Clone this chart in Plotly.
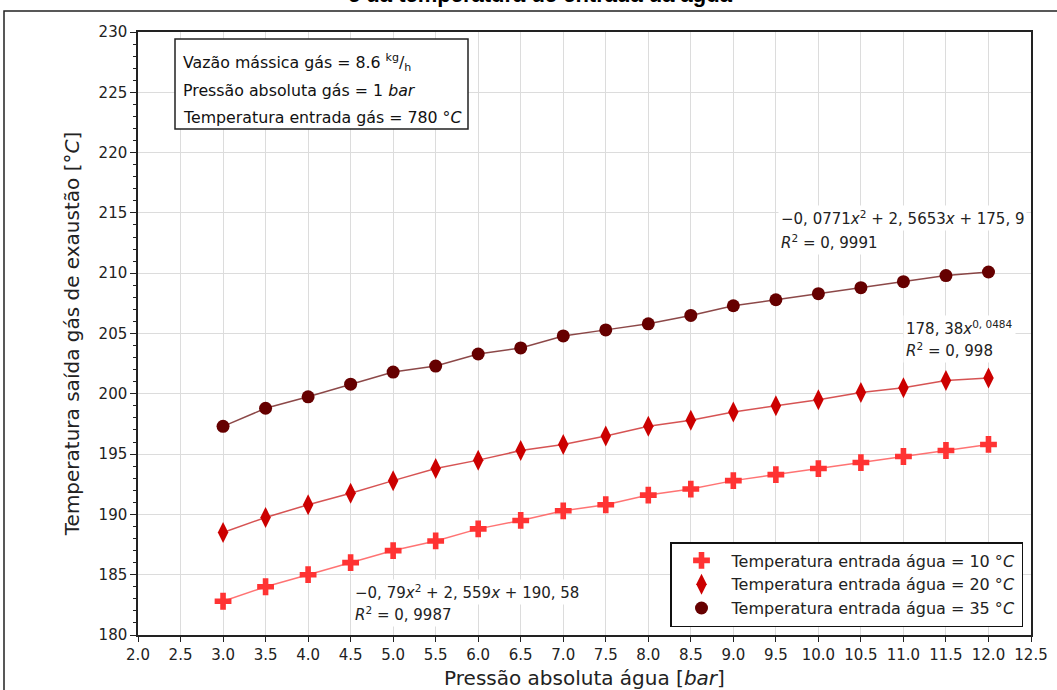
import plotly.graph_objects as go

pressao = [3.0, 3.5, 4.0, 4.5, 5.0, 5.5, 6.0, 6.5, 7.0, 7.5, 8.0, 8.5, 9.0, 9.5, 10.0, 10.5, 11.0, 11.5, 12.0]
t_agua_10 = [182.8, 184.0, 185.0, 186.0, 187.0, 187.8, 188.8, 189.5, 190.3, 190.8, 191.6, 192.1, 192.8, 193.3, 193.8, 194.3, 194.8, 195.3, 195.8]
t_agua_20 = [188.5, 189.75, 190.8, 191.75, 192.8, 193.8, 194.5, 195.3, 195.8, 196.5, 197.3, 197.8, 198.5, 199.0, 199.5, 200.1, 200.5, 201.1, 201.3]
t_agua_35 = [197.3, 198.8, 199.75, 200.8, 201.8, 202.3, 203.3, 203.8, 204.8, 205.3, 205.8, 206.5, 207.3, 207.8, 208.3, 208.8, 209.3, 209.8, 210.1]

series_names = ["Temperatura entrada água = 10 °<i>C</i>",
                "Temperatura entrada água = 20 °<i>C</i>",
                "Temperatura entrada água = 35 °<i>C</i>"]
x_ticks = [2.0, 2.5, 3.0, 3.5, 4.0, 4.5, 5.0, 5.5, 6.0, 6.5, 7.0, 7.5, 8.0, 8.5, 9.0, 9.5, 10.0, 10.5, 11.0, 11.5, 12.0, 12.5]

FONT = "DejaVu Sans"
L, R, T, B = 138, 26, 32, 55
W, H = 1057, 690
PW, PH = W - L - R, H - T - B

def px(x):
    return (x - L) / PW

def py(y):
    return (H - B - y) / PH

fig = go.Figure()

styles = [
    (t_agua_10, "#ff3333", "rgba(255,90,90,0.85)", "cross", 14),
    (t_agua_20, "#cc0000", "rgba(204,40,40,0.8)", "diamond-tall", 15),
    (t_agua_35, "#660000", "rgba(120,40,40,0.85)", "circle", 13),
]

for (ys, mc, lc, sym, sz), name in zip(styles, series_names):
    fig.add_trace(go.Scatter(x=pressao, y=ys, mode="lines", line=dict(color=lc, width=1.5),
                             showlegend=False, hoverinfo="skip"))
    fig.add_trace(go.Scatter(x=pressao, y=ys, mode="markers", name=name, legendgroup=name,
                             marker=dict(color=mc, symbol=sym, size=sz, line=dict(width=0))))

fig.update_layout(
    width=W, height=H,
    margin=dict(l=L, r=R, t=T, b=B, autoexpand=False),
    paper_bgcolor="white", plot_bgcolor="white",
    font=dict(family=FONT, size=15, color="#222"),
    legend=dict(x=px(1023), xanchor="right", y=py(627), yanchor="bottom",
                bgcolor="white", bordercolor="#111", borderwidth=1.5,
                font=dict(size=16, family=FONT), tracegroupgap=0,
                itemsizing="trace", itemwidth=50),
    xaxis=dict(range=[2.0, 12.5], tickvals=x_ticks, ticktext=[f"{v:.1f}" for v in x_ticks],
               showgrid=True, gridcolor="#dcdcdc", gridwidth=1, automargin=False,
               showline=True, linecolor="#222", linewidth=1.5, mirror=True,
               ticks="outside", ticklen=5, tickcolor="#222", zeroline=False,
               tickfont=dict(size=15, family=FONT),
               title=dict(text="Pressão absoluta água [<i>bar</i>]", font=dict(size=20, family=FONT), standoff=12)),
    yaxis=dict(range=[180, 230], dtick=5, tick0=180, automargin=False,
               showgrid=True, gridcolor="#dcdcdc", gridwidth=1,
               showline=True, linecolor="#222", linewidth=1.5, mirror=True,
               ticks="outside", ticklen=6, tickcolor="#222", zeroline=False,
               minor=dict(dtick=1, ticks="outside", ticklen=3, tickcolor="#222", showgrid=False),
               tickfont=dict(size=15, family=FONT),
               title=dict(text="Temperatura saída gás de exaustão [°<i>C</i>]", font=dict(size=20, family=FONT), standoff=14)),
)

# info box
fig.add_shape(type="rect", xref="paper", yref="paper", x0=px(175), x1=px(468), y0=py(129), y1=py(39),
              line=dict(color="#222", width=1.5), fillcolor="white", layer="above")
info_lines = [
    ("Vazão mássica gás = 8.6 <sup>kg</sup>/<sub>h</sub>", 62),
    ("Pressão absoluta gás = 1 <i>bar</i>", 90),
    ("Temperatura entrada gás = 780 °<i>C</i>", 117),
]
for txt, yy in info_lines:
    fig.add_annotation(xref="paper", yref="paper", x=px(181), y=py(yy), xanchor="left", yanchor="middle",
                       text=txt, showarrow=False, font=dict(size=15.8, family=FONT, color="#111"))

# fit equations
eqs = [
    ("−0, 0771<i>x</i><sup>2</sup> + 2, 5653<i>x</i> + 175, 9", 9.525, 214.6),
    ("<i>R</i><sup>2</sup> = 0, 9991", 9.525, 212.6),
    ("178, 38<i>x</i><sup>0, 0484</sup>", 10.995, 205.45),
    ("<i>R</i><sup>2</sup> = 0, 998", 10.995, 203.64),
    ("−0, 79<i>x</i><sup>2</sup> + 2, 559<i>x</i> + 190, 58", 4.516, 183.55),
    ("<i>R</i><sup>2</sup> = 0, 9987", 4.516, 181.74),
]
for txt, xx, yy in eqs:
    fig.add_annotation(x=xx, y=yy, xanchor="left", yanchor="middle", text=txt, showarrow=False,
                       bgcolor="white", borderpad=2, font=dict(size=15, family=FONT, color="#222"))

# document title fragment (cropped at top)
fig.add_annotation(xref="paper", yref="paper", x=px(540), y=py(-6), xanchor="center", yanchor="middle",
                   text="<b>e da temperatura de entrada da água</b>", showarrow=False,
                   font=dict(size=22, family="Liberation Sans", color="#000"))

# outer document frame
fig.add_shape(type="rect", xref="paper", yref="paper", x0=px(4), x1=px(1080), y0=py(730), y1=py(11),
              line=dict(color="#222", width=1.5), layer="below")

fig.write_html("out.html")
